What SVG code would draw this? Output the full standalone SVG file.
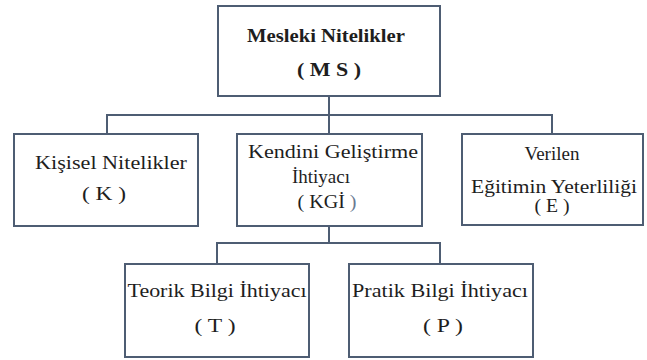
<svg xmlns="http://www.w3.org/2000/svg" width="647" height="360" viewBox="0 0 647 360">
  <style>
    .box { fill: #ffffff; stroke: #4e5d73; stroke-width: 2; }
    .conn { fill: none; stroke: #4e5d73; stroke-width: 2; }
    .t { font-family: "Liberation Serif", "DejaVu Serif", serif; font-size: 19px; fill: #1e1e1e; text-anchor: middle; }
    .b { font-weight: bold; }
  </style>
  <rect x="0" y="0" width="647" height="360" fill="#ffffff"/>
  <g id="connectors">
    <path class="conn" d="M329 96 V115 M107 134 V115 H552 V134 M329 115 V134"/>
    <path class="conn" d="M329 226 V243 M217 264 V243 H440 V264"/>
  </g>
  <g id="MS">
    <rect class="box" x="218" y="6" width="222" height="90"/>
    <text class="t b" x="326" y="42" textLength="158" lengthAdjust="spacingAndGlyphs">Mesleki Nitelikler</text>
    <text class="t b" x="329" y="76" textLength="64" lengthAdjust="spacingAndGlyphs">( M S )</text>
  </g>
  <g id="K">
    <rect class="box" x="14" y="134" width="184" height="92"/>
    <text class="t" x="111" y="169" textLength="152" lengthAdjust="spacingAndGlyphs">Kişisel  Nitelikler</text>
    <text class="t" x="104" y="200" textLength="44" lengthAdjust="spacingAndGlyphs">( K )</text>
  </g>
  <g id="KGI">
    <rect class="box" x="237" y="134" width="185" height="92"/>
    <text class="t" x="333" y="158" textLength="170" lengthAdjust="spacingAndGlyphs">Kendini  Geliştirme</text>
    <text class="t" x="321" y="183">İhtiyacı</text>
    <text class="t" x="327" y="208" textLength="59" lengthAdjust="spacingAndGlyphs">( KGİ <tspan fill="#6a7a92">)</tspan></text>
  </g>
  <g id="E">
    <rect class="box" x="462" y="134" width="181" height="91"/>
    <text class="t" x="552" y="160">Verilen</text>
    <text class="t" x="554" y="193" textLength="166" lengthAdjust="spacingAndGlyphs">Eğitimin  Yeterliliği</text>
    <text class="t" x="552" y="212" textLength="35" lengthAdjust="spacingAndGlyphs">( E )</text>
  </g>
  <g id="T">
    <rect class="box" x="125" y="264" width="184" height="93"/>
    <text class="t" x="217" y="297" textLength="179" lengthAdjust="spacingAndGlyphs">Teorik Bilgi  İhtiyacı</text>
    <text class="t" x="215" y="332" textLength="41" lengthAdjust="spacingAndGlyphs">( T )</text>
  </g>
  <g id="P">
    <rect class="box" x="349" y="264" width="184" height="93"/>
    <text class="t" x="440" y="297" textLength="176" lengthAdjust="spacingAndGlyphs">Pratik Bilgi  İhtiyacı</text>
    <text class="t" x="443" y="332" textLength="40" lengthAdjust="spacingAndGlyphs">( P )</text>
  </g>
</svg>
